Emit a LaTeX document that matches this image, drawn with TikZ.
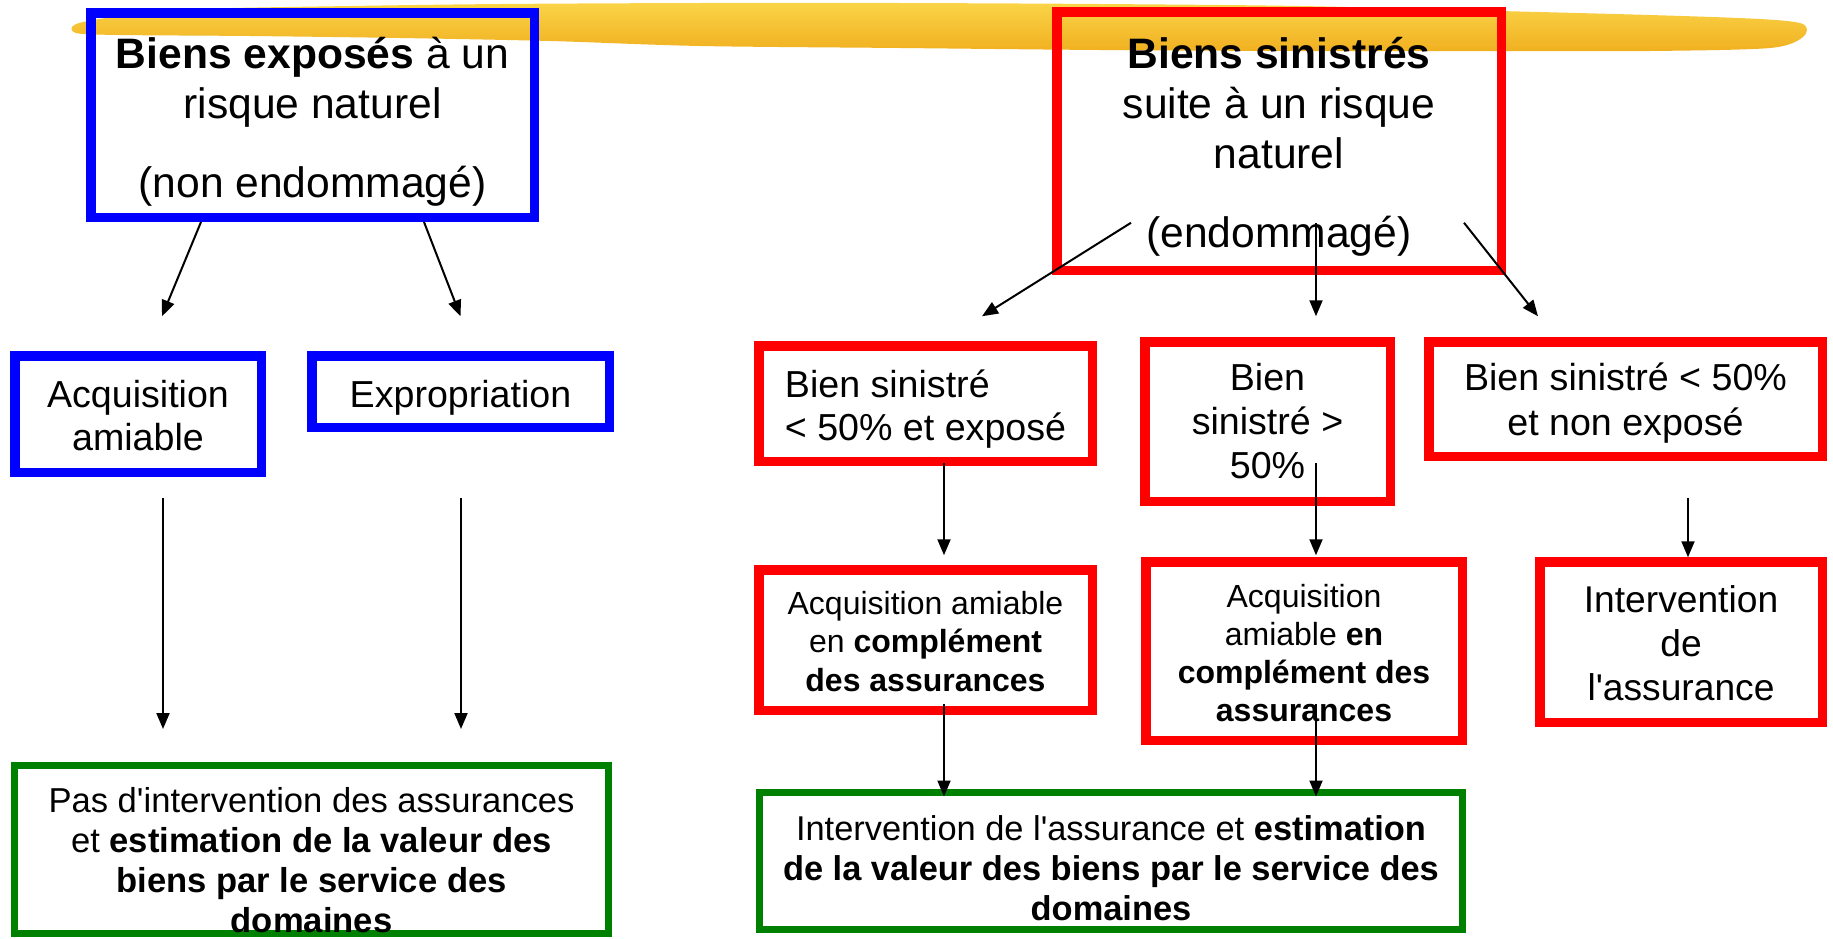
\documentclass[tikz,border=0pt]{standalone}
\usepackage{fontspec}
\setmainfont{Liberation Sans}
\usetikzlibrary{arrows.meta}

\definecolor{boxgreen}{RGB}{0,128,0}
\definecolor{brush}{RGB}{240,176,32}
\definecolor{brushlight}{RGB}{250,212,72}

% lines of a box, lowered by #1 without changing the box size
\newcommand{\boxlines}[3][0pt]{\raisebox{-#1}[\height][\depth]{\begin{tabular}{@{}#2@{}}#3\end{tabular}}}

\begin{document}
\begin{tikzpicture}[x=0.5pt,y=-0.5pt,->,>={Triangle[length=8pt,width=6.5pt]},line width=1pt,
                    box/.style={rectangle,draw,inner sep=2pt},
                    blue node/.style={box,draw=blue,line width=4.75pt},
                    red node/.style={box,draw=red,line width=4.75pt},
                    green node/.style={box,draw=boxgreen,line width=3.5pt}]

  \useasboundingbox (0,0) rectangle (1833,938);

  % yellow brush stroke along the top
  \shade[-,top color=brushlight,bottom color=brush] plot[smooth cycle] coordinates {
    (76,24) (120,16) (200,9) (350,6) (500,4) (700,3) (900,3) (1100,4) (1300,6) (1500,11)
    (1650,15) (1760,19) (1803,24) (1803,37) (1770,48) (1650,51) (1500,51) (1300,51)
    (1100,50) (900,48) (700,46) (550,41) (400,38) (250,36) (120,35) (76,33)};

  % left side: exposed goods
  \node[blue node,font=\fontsize{21.3}{25}\selectfont,minimum width=221.75pt,minimum height=102.25pt]
    (A) at (312.5,115) {\boxlines[3.75pt]{c}{\textbf{Biens exposés} à un\\ risque naturel\\[14.5pt] (non endommagé)}};
  \node[blue node,font=\fontsize{18.8}{21.5}\selectfont,minimum width=123.25pt,minimum height=58.25pt]
    (AA) at (138,414) {\boxlines[3pt]{c}{Acquisition\\ amiable}};
  \node[blue node,font=\fontsize{18.8}{21.5}\selectfont,minimum width=148.75pt,minimum height=35.75pt]
    (EX) at (460.5,391.5) {\boxlines[3.5pt]{c}{Expropriation}};
  \node[green node,font=\fontsize{17.3}{20}\selectfont,minimum width=297pt,minimum height=83.5pt]
    (GL) at (311.5,849) {\boxlines[7.5pt]{c}{Pas d\textquotesingle intervention des assurances\\ et \textbf{estimation de la valeur des}\\ \textbf{biens par le service des}\\ \textbf{domaines}}};

  % right side: damaged goods
  \node[red node,font=\fontsize{21.3}{25}\selectfont,minimum width=222.25pt,minimum height=129.25pt]
    (B) at (1279,141) {\boxlines[3.25pt]{c}{\textbf{Biens sinistrés}\\ suite à un risque\\ naturel\\[14.5pt] (endommagé)}};
  \node[red node,font=\fontsize{18.8}{21.5}\selectfont,minimum width=166.75pt,minimum height=57.75pt]
    (C1) at (925.5,403.5) {\boxlines[3.2pt]{l}{Bien sinistré\\ < 50\% et exposé}};
  \node[red node,font=\fontsize{18.8}{22}\selectfont,minimum width=122.75pt,minimum height=79.75pt]
    (C2) at (1267.5,421.5) {\boxlines[1.85pt]{c}{Bien\\ sinistré >\\ 50\%}};
  \node[red node,font=\fontsize{18.8}{22.5}\selectfont,minimum width=196.75pt,minimum height=57.25pt]
    (C3) at (1625.5,399) {\boxlines[2.25pt]{c}{Bien sinistré < 50\%\\ et non exposé}};
  \node[red node,font=\fontsize{16}{19.25}\selectfont,minimum width=166.75pt,minimum height=70.25pt]
    (D1) at (925.5,640) {\boxlines[2.4pt]{c}{Acquisition amiable\\ en \textbf{complément}\\ \textbf{des assurances}}};
  \node[red node,font=\fontsize{16}{19}\selectfont,minimum width=158.25pt,minimum height=89.25pt]
    (D2) at (1304,651) {\boxlines[2.7pt]{c}{Acquisition\\ amiable \textbf{en}\\ \textbf{complément des}\\ \textbf{assurances}}};
  \node[red node,font=\fontsize{18.6}{22}\selectfont,minimum width=141.25pt,minimum height=80.25pt]
    (D3) at (1681,642) {\boxlines[2.6pt]{c}{Intervention\\ de\\ l\textquotesingle assurance}};
  \node[green node,font=\fontsize{17.2}{20}\selectfont,minimum width=351.5pt,minimum height=68.5pt]
    (E) at (1111,861) {\boxlines[5.5pt]{c}{Intervention de l\textquotesingle assurance et \textbf{estimation}\\ \textbf{de la valeur des biens par le service des}\\ \textbf{domaines}}};

  \path
    ([shift={(-111.5,0)}]A.south) edge ([shift={(24,-34.75)}]AA.north)
    ([shift={(111.5,0)}]A.south) edge ([shift={(0,-34.75)}]EX.north)
    ([shift={(25,20.75)}]AA.south) edge ([shift={(-148.5,-32.5)}]GL.north)
    ([shift={(0.5,65.75)}]EX.south) edge ([shift={(149.5,-32.5)}]GL.north)
    ([shift={(-148,-52.25)}]B.south) edge ([shift={(56.5,-24.75)}]C1.north)
    ([shift={(37,-52.25)}]B.south) edge ([shift={(48.5,-20.75)}]C2.north)
    ([shift={(185,-52.25)}]B.south) edge ([shift={(-87.5,-20.75)}]C3.north)
    ([shift={(18.5,-3.25)}]C1.south) edge ([shift={(18.5,-9.75)}]D1.north)
    ([shift={(48.5,-43.25)}]C2.south) edge ([shift={(12,-1.75)}]D2.north)
    ([shift={(62.5,36.75)}]C3.south) edge ([shift={(7,0.25)}]D3.north)
    ([shift={(18.5,-11.25)}]D1.south) edge ([shift={(-167,7.5)}]E.north)
    ([shift={(12,-41.25)}]D2.south) edge ([shift={(205,7.5)}]E.north);
\end{tikzpicture}
\end{document}
